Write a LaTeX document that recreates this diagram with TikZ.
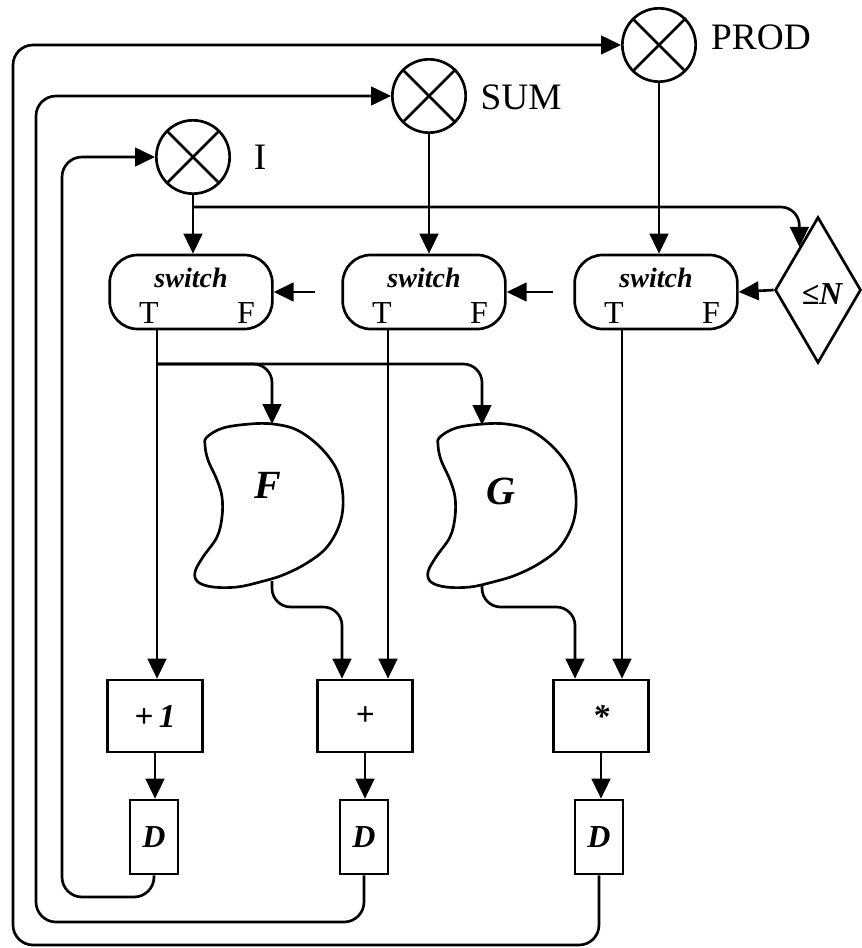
\documentclass[tikz,border=0pt]{standalone}
\usepackage{fontspec}
\setmainfont{Liberation Serif}
\usetikzlibrary{arrows.meta,shapes.geometric,calc}
\tikzset{
  ln/.style={line width=2pt},
  arr/.style={ln, -{Triangle[length=15pt,width=14pt]}},
  loopline/.style={arr, rounded corners=15pt},
  mrg/.style={circle, draw, ln, minimum size=55pt, inner sep=0pt},
  sw/.style={draw, ln, rounded corners=21pt, minimum width=122pt, minimum height=55.5pt, inner sep=0pt},
  opbox/.style={draw, ln, minimum width=71pt, minimum height=54pt, inner sep=0pt, font=\fontsize{25}{27}\selectfont\bfseries\itshape},
  dbox/.style={draw, ln, minimum width=36pt, minimum height=55.5pt, inner sep=0pt, font=\fontsize{24}{26}\selectfont\bfseries\itshape},
  lbl/.style={font=\fontsize{28}{30}\selectfont, inner sep=0pt},
  swtxt/.style={font=\fontsize{21}{23}\selectfont\bfseries\itshape, inner sep=0pt},
  tf/.style={font=\fontsize{24}{26}\selectfont, inner sep=0pt},
  fgtxt/.style={font=\fontsize{30}{32}\selectfont\bfseries\itshape, inner sep=0pt},
}
\begin{document}
\begin{tikzpicture}[x=0.75pt,y=-0.75pt]
\useasboundingbox (0,0) rectangle (862,948);
% merge circles
\node[mrg] (I) at (193,157) {};
\node[mrg] (SUM) at (429,96) {};
\node[mrg] (PROD) at (659,45) {};
\foreach \n in {I,SUM,PROD}
  \draw[ln] (\n.north east) -- (\n.south west) (\n.north west) -- (\n.south east);
\node[lbl] (lI) at (260,157) {I};
\node[lbl] (lSUM) at (521,97) {SUM};
\node[lbl] (lPROD) at (761,37) {PROD};
% switches
\node[sw] (s1) at (191,292) {};
\node[sw] (s2) at (424,292) {};
\node[sw] (s3) at (656,292) {};
\node[swtxt] (s1w) at (191,278) {switch};
\node[swtxt] (s2w) at (424,278) {switch};
\node[swtxt] (s3w) at (656,278) {switch};
\node[tf] (s1T) at (149,313) {T};
\node[tf] (s1F) at (246,313) {F};
\node[tf] (s2T) at (382,313) {T};
\node[tf] (s2F) at (479,313) {F};
\node[tf] (s3T) at (614,313) {T};
\node[tf] (s3F) at (711,313) {F};
% diamond
\node[draw, diamond, ln, minimum width=64.5pt, minimum height=109.5pt, inner sep=0pt] (dia) at (818,290) {};
\node[font=\fontsize{24}{26}\selectfont\bfseries\itshape, inner sep=0pt] (dtxt) at (822,294) {≤N};
% inputs to switches
\draw[arr] (I.south) -- (I.south |- s1.north);
\draw[arr] (SUM.south) -- (SUM.south |- s2.north);
\draw[arr] (PROD.south) -- (PROD.south |- s3.north);
\coordinate (b1) at (193,207);
\coordinate (dtop) at ($(dia.west)!0.58!(dia.north)$);
\draw[arr, rounded corners=14pt] (b1) -| (dtop);
\draw[arr] (dia.west) -- (s3.east);
\coordinate (f2) at (553,292);
\draw[arr] (f2) -- (s2.east);
\coordinate (f1) at (315,292);
\draw[arr] (f1) -- (s1.east);
% operation boxes
\node[opbox] (p1) at (155,716) {+\,1};
\node[opbox] (pp) at (365,716) {+};
\node[opbox] (pm) at (601,716) {*};
\node[dbox] (d1) at (154,837) {D};
\node[dbox] (d2) at (364,837) {D};
\node[dbox] (d3) at (599,837) {D};
% blobs F and G
\draw[ln] plot[smooth cycle, tension=0.6] coordinates {(207,437) (223,428) (250,424) (273,424) (297,430) (320,447) (337,470) (343,497) (340,523) (327,547) (307,563) (283,575) (260,582) (237,587) (213,587) (198,582) (195,572) (203,557) (217,537) (222,517) (222,497) (217,480) (208,460) (205,445)};
\begin{scope}[shift={(233,0)}]
\draw[ln] plot[smooth cycle, tension=0.6] coordinates {(207,437) (223,428) (250,424) (273,424) (297,430) (320,447) (337,470) (343,497) (340,523) (327,547) (307,563) (283,575) (260,582) (237,587) (213,587) (198,582) (195,572) (203,557) (217,537) (222,517) (222,497) (217,480) (208,460) (205,445)};
\end{scope}
\node[fgtxt] (Ft) at (268,485) {F};
\node[fgtxt] (Gt) at (501,491) {G};
\coordinate (Fin) at (272,424);
\coordinate (Gin) at (482,425);
\coordinate (Fout) at (272,581);
\coordinate (Gout) at (482,586);
% switch T outputs
\path (s1.south) ++(-34,0) coordinate (t1);
\path (s2.south) ++(-36,0) coordinate (t2);
\path (s3.south) ++(-34,0) coordinate (t3);
\draw[arr] (t1) -- (t1 |- p1.north);
\draw[arr] (t2) -- (t2 |- pp.north);
\draw[arr] (t3) -- (t3 |- pm.north);
\coordinate (b2) at (157,364);
\draw[arr, rounded corners=14pt] (b2) -| (Fin);
\draw[arr, rounded corners=14pt] (b2) -| (Gin);
% F, G outputs
\path (pp.north) ++(-23,0) coordinate (ppF);
\path (pm.north) ++(-26,0) coordinate (pmG);
\coordinate (fm) at (342,607);
\coordinate (gm) at (575,607);
\draw[arr, rounded corners=14pt] (Fout) |- (fm) -- (ppF);
\draw[arr, rounded corners=14pt] (Gout) |- (gm) -- (pmG);
% to delays
\draw[arr] (p1.south) -- (p1.south |- d1.north);
\draw[arr] (pp.south) -- (pp.south |- d2.north);
\draw[arr] (pm.south) -- (pm.south |- d3.north);
% feedback loops
\coordinate (c1) at (62,897);
\coordinate (c2) at (36,922);
\coordinate (c3) at (13,945);
\draw[loopline] (d1.south) |- (c1) |- (I.west);
\draw[loopline] (d2.south) |- (c2) |- (SUM.west);
\draw[loopline] (d3.south) |- (c3) |- (PROD.west);
\end{tikzpicture}
\end{document}
